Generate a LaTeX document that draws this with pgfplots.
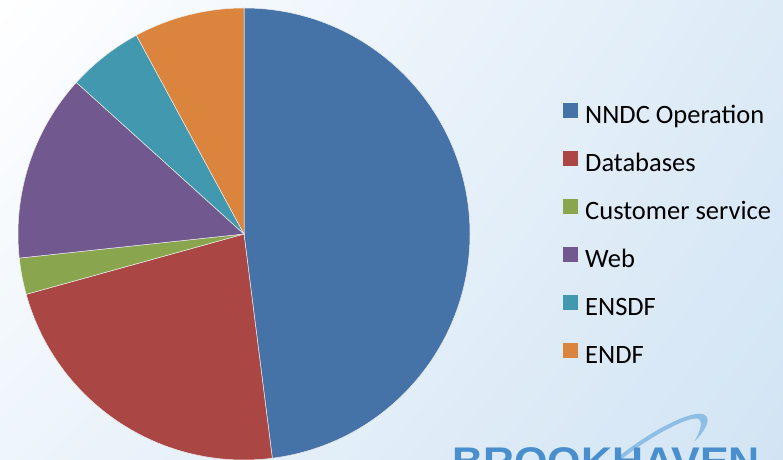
\documentclass[border=0pt]{standalone}
\usepackage{pgfplots}
\usepackage{pgfplotstable}
\usepackage{fontspec}
\usetikzlibrary{shadings}
\setmainfont{Carlito}
\newfontfamily\logofont{Liberation Sans}
\pgfplotsset{compat=1.18}

\definecolor{cOper}{HTML}{4572A7}
\definecolor{cData}{HTML}{AA4643}
\definecolor{cCust}{HTML}{89A54E}
\definecolor{cWeb}{HTML}{71588F}
\definecolor{cEnsdf}{HTML}{4198AF}
\definecolor{cEndf}{HTML}{DB843D}
\definecolor{bgTL}{HTML}{FFFFFF}
\definecolor{bgTR}{HTML}{DDEBF7}
\definecolor{bgBL}{HTML}{EEF5FB}
\definecolor{bgBR}{HTML}{D2E4F4}
\definecolor{logo}{HTML}{4A8FCD}
\definecolor{swoosh}{HTML}{8EBDE6}

% share in percent, clockwise from 12 o'clock
\pgfplotstableread[col sep=comma]{
name,share,col
NNDC Operation,48.0,cOper
Databases,22.7,cData
Customer service,2.6,cCust
Web,13.4,cWeb
ENSDF,5.4,cEnsdf
ENDF,7.9,cEndf
}\pietable

\begin{document}
\begin{tikzpicture}
\useasboundingbox (0,0) rectangle (783bp,460bp);
\clip (0,0) rectangle (783bp,460bp);
\shade[upper left=bgTL, upper right=bgTR, lower left=bgBL, lower right=bgBR]
  (0,0) rectangle (783bp,460bp);

% logo, cut off by the lower edge
\fill[swoosh] (612bp,-2bp) .. controls (650bp,30bp) and (695bp,52bp) .. (705bp,45bp)
  .. controls (712bp,40bp) and (704bp,28bp) .. (694bp,18bp)
  .. controls (700bp,28bp) and (703bp,38bp) .. (699bp,41bp)
  .. controls (690bp,45bp) and (650bp,24bp) .. (618bp,-2bp) -- cycle;
\node[anchor=north west, inner sep=0pt, text=logo, xscale=1.076,
  font=\logofont\bfseries\fontsize{40bp}{40bp}\selectfont] at (452bp,12.3bp) {BROOKHAVEN};

\begin{axis}[
  at={(18bp,0bp)}, anchor=south west,
  scale only axis, width=452bp, height=452bp,
  xmin=-1, xmax=1, ymin=-1, ymax=1,
  hide axis,
  legend cell align=left,
  legend image code/.code={\fill[#1] (0bp,0bp) rectangle (15bp,15bp);},
  legend style={
    at={(axis description cs:1.2058,0.7905)}, anchor=north west,
    draw=none, fill=none, inner sep=0pt,
    font=\fontsize{26.5bp}{30bp}\selectfont,
    nodes={inner sep=0pt, text height=18bp, text depth=6bp},
    row sep=21bp, column sep=7bp,
  },
  ]
  \def\as{90}
  \pgfplotsforeachungrouped \i in {0,...,5}{
    \pgfplotstablegetelem{\i}{share}\of\pietable \let\v\pgfplotsretval
    \pgfplotstablegetelem{\i}{col}\of\pietable \let\c\pgfplotsretval
    \pgfmathsetmacro\ae{\as-3.6*\v}
    \edef\temp{\noexpand\fill[\c, draw=white!85!gray, line width=0.5bp]
      (axis cs:0,0) -- ++(\as:226bp) arc[start angle=\as, end angle=\ae, radius=226bp] -- cycle;}
    \temp
    \let\as\ae
  }
  \addlegendimage{fill=cOper, draw=none}
  \addlegendimage{fill=cData, draw=none}
  \addlegendimage{fill=cCust, draw=none}
  \addlegendimage{fill=cWeb, draw=none}
  \addlegendimage{fill=cEnsdf, draw=none}
  \addlegendimage{fill=cEndf, draw=none}
  \legend{NNDC Operation, Databases, Customer service, Web, ENSDF, ENDF}
\end{axis}
\end{tikzpicture}
\end{document}
